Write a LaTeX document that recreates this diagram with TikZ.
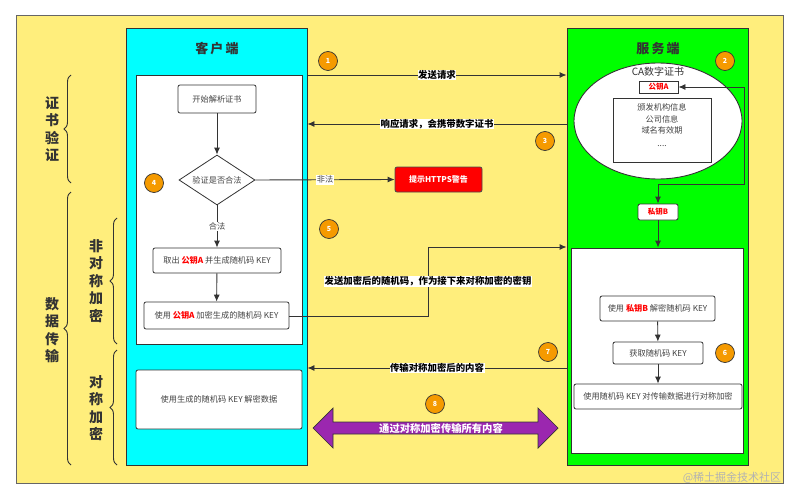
\documentclass[tikz,border=0pt]{standalone}
\usepackage{fontspec}
\setmainfont{Noto Sans CJK SC}
\usetikzlibrary{arrows.meta,shapes.geometric,decorations.pathreplacing}
\definecolor{bgyellow}{HTML}{FFEE7C}
\definecolor{linec}{HTML}{333333}
\definecolor{textc}{HTML}{444444}
\definecolor{orangec}{HTML}{F59A00}
\definecolor{purplec}{HTML}{9B27AF}
\definecolor{cyanc}{HTML}{00FFFF}
\definecolor{greenc}{HTML}{00FF00}
\tikzset{
  box/.style={draw=linec, fill=white, rounded corners=2pt, line width=0.8pt, inner sep=0pt,
    font=\fontsize{8.2}{10}\selectfont, text=textc, align=center},
  panel/.style={draw=linec, line width=0.9pt, inner sep=0pt},
  conn/.style={draw=linec, line width=0.9pt, -{Latex[length=7pt,width=6pt]}},
  lbl/.style={fill=white, inner sep=0.5pt, font=\bfseries\fontsize{9.4}{11}\selectfont, text=black},
  num/.style={circle, draw=linec, fill=orangec, line width=0.7pt, minimum size=19pt, inner sep=0pt,
    font=\bfseries\fontsize{7}{8}\selectfont, text=white},
  side/.style={font=\bfseries\fontsize{14}{17.5}\selectfont, text=linec, align=center},
  brc/.style={draw=linec, line width=0.9pt, decorate, decoration={brace, amplitude=7pt}},
}
\begin{document}
\begin{tikzpicture}[x=1pt,y=-1pt]
\useasboundingbox (0,0) rectangle (799,500);
\fill[white] (0,0) rectangle (799,500);
% outer
\node[draw=gray!80!black, fill=bgyellow, line width=1pt, minimum width=767pt, minimum height=467pt, inner sep=0pt] (outer) at (399.5,249.5) {};
% panels
\node[panel, fill=cyanc, minimum width=181pt, minimum height=437pt] (cyan) at (216.5,246.5) {};
\node[panel, fill=greenc, minimum width=181pt, minimum height=437pt] (green) at (657.5,246.5) {};
\node[font=\bfseries\fontsize{13}{15}\selectfont, text=linec] (tcl) at (217,49) {客\,户\,端};
\node[font=\bfseries\fontsize{13}{15}\selectfont, text=linec] (tsv) at (658,49) {服\,务\,端};
% client boxes
\node[panel, fill=white, minimum width=166pt, minimum height=269pt] (cbox1) at (219,209.5) {};
\node[box, minimum width=166pt, minimum height=59pt] (cbox2) at (219,399.5) {使用生成的随机码 KEY 解密数据};
\node[box, minimum width=78pt, minimum height=28pt] (start) at (217,99) {开始解析证书};
\node[diamond, aspect=1.52, draw=linec, fill=white, line width=0.8pt, inner sep=0pt, minimum width=76pt, minimum height=50pt,
  font=\fontsize{8.2}{10}\selectfont, text=textc] (dia) at (217,180) {验证是否合法};
\node[box, minimum width=128pt, minimum height=25pt] (take) at (217,260.5) {取出 {\color{red}\bfseries 公钥A} 并生成随机码 KEY};
\node[box, minimum width=145pt, minimum height=27pt] (enc) at (216.5,315.5) {使用 {\color{red}\bfseries 公钥A} 加密生成的随机码 KEY};
\node[draw=black!70, fill=red, rounded corners=2pt, line width=0.8pt, minimum width=87pt, minimum height=25pt, inner sep=0pt,
  font=\bfseries\fontsize{8}{9}\selectfont, text=white] (warn) at (438.5,179.5) {提示HTTPS警告};
% server
\node[ellipse, draw=linec, fill=white, line width=0.9pt, minimum width=168pt, minimum height=116pt, inner sep=0pt] (ell) at (658,121) {};
\node[font=\fontsize{10}{12}\selectfont, text=linec] (ca) at (658,72) {CA数字证书};
\node[draw=linec, fill=white, line width=0.9pt, minimum width=39pt, minimum height=12pt, inner sep=0pt,
  font=\bfseries\fontsize{7.5}{9}\selectfont, text=red] (pubA) at (658.5,87) {公钥A};
\node[draw=linec, fill=white, line width=0.9pt, minimum width=98pt, minimum height=64pt, inner sep=0pt] (info) at (662,130) {};
\node[font=\fontsize{8.2}{9.5}\selectfont, text=textc, align=center] (infot) at (662,125) {颁发机构信息\\[2pt]公司信息\\[2pt]域名有效期\\[3pt]....};
\node[box, minimum width=40pt, minimum height=16pt, font=\bfseries\fontsize{7.5}{9}\selectfont, text=red] (privB) at (658,212) {私钥B};
\node[panel, fill=white, minimum width=172pt, minimum height=205pt] (sbox) at (657,350.5) {};
\node[box, minimum width=115pt, minimum height=25pt] (dec) at (657.5,308.5) {使用 {\color{red}\bfseries 私钥B} 解密随机码 KEY};
\node[box, minimum width=90pt, minimum height=22pt] (get) at (658,353) {获取随机码 KEY};
\node[box, minimum width=168pt, minimum height=25pt] (sym) at (658,396.5) {使用随机码 KEY 对传输数据进行对称加密};
% client flow
\draw[conn] (start) -- (dia);
\draw[conn] (dia) -- node[fill=white, inner sep=1pt, font=\fontsize{8.2}{10}\selectfont, text=textc, pos=0.5] (hefa) {合法} (take);
\draw[conn] (take) -- (enc);
\draw[conn] (dia.east) -- node[fill=white, inner sep=1pt, font=\fontsize{8.2}{10}\selectfont, text=textc, pos=0.5] (feifa) {非法} (warn.west);
% server flow
\draw[conn] (privB) -- (sbox.north -| privB);
\draw[conn] (dec) -- (get);
\draw[conn] (get) -- (sym);
\coordinate (kr) at (744,87);
\coordinate (kb) at (744,184);
\draw[draw=linec, line width=0.9pt, {Latex[length=7pt,width=6pt]}-{Latex[length=7pt,width=6pt]}] (pubA.east) -- (kr) -- (kb) -- (kb -| privB) -- (privB.north);
% messages
\coordinate (y1) at (0,75);
\coordinate (y3) at (0,124);
\coordinate (y7) at (0,368);
\draw[conn] (cyan.east |- y1) -- node[lbl] (l1) {发送请求} (green.west |- y1);
\draw[conn] (green.west |- y3) -- node[lbl] (l3) {响应请求，会携带数字证书} (cyan.east |- y3);
\coordinate (m5a) at (428,316);
\coordinate (m5b) at (428,247);
\draw[conn] (enc.east |- m5a) -- (m5a) -- node[lbl, pos=0.5] (l5) {发送加密后的随机码，作为接下来对称加密的密钥} (m5b) -- (green.west |- m5b);
\draw[conn] (green.west |- y7) -- node[lbl] (l7) {传输对称加密后的内容} (cyan.east |- y7);
% purple double arrow
\filldraw[fill=purplec, draw=linec, line width=0.7pt]
  (313,428) -- (333,408) -- (333,422) -- (538,422) -- (538,408) -- (558,428) -- (538,448) -- (538,434) -- (333,434) -- (333,448) -- cycle;
\node[font=\bfseries\fontsize{10.3}{12}\selectfont, text=white] (l8) at (441,428.5) {通过对称加密传输所有内容};
% numbers
\node[num] (n1) at (328,61) {1};
\node[num] (n2) at (725,61) {2};
\node[num] (n3) at (545,141) {3};
\node[num] (n4) at (154,183) {4};
\node[num] (n5) at (329,229) {5};
\node[num] (n6) at (725,353) {6};
\node[num] (n7) at (548,352) {7};
\node[num] (n8) at (435,404) {8};
% braces and side labels
\draw[brc] (71,183) -- (71,75);
\draw[brc] (71,465) -- (71,192);
\draw[brc] (117,344) -- (117,218);
\draw[brc] (117,465) -- (117,350);
\node[side] (s1) at (52,129) {证\\书\\验\\证};
\node[side] (s2) at (52,330) {数\\据\\传\\输};
\node[side] (s3) at (96,281) {非\\对\\称\\加\\密};
\node[side] (s4) at (96,408) {对\\称\\加\\密};
% watermark
\node[font=\fontsize{11}{12}\selectfont, text=gray!60] (wm) at (732,478) {@稀土掘金技术社区};
\end{tikzpicture}
\end{document}
